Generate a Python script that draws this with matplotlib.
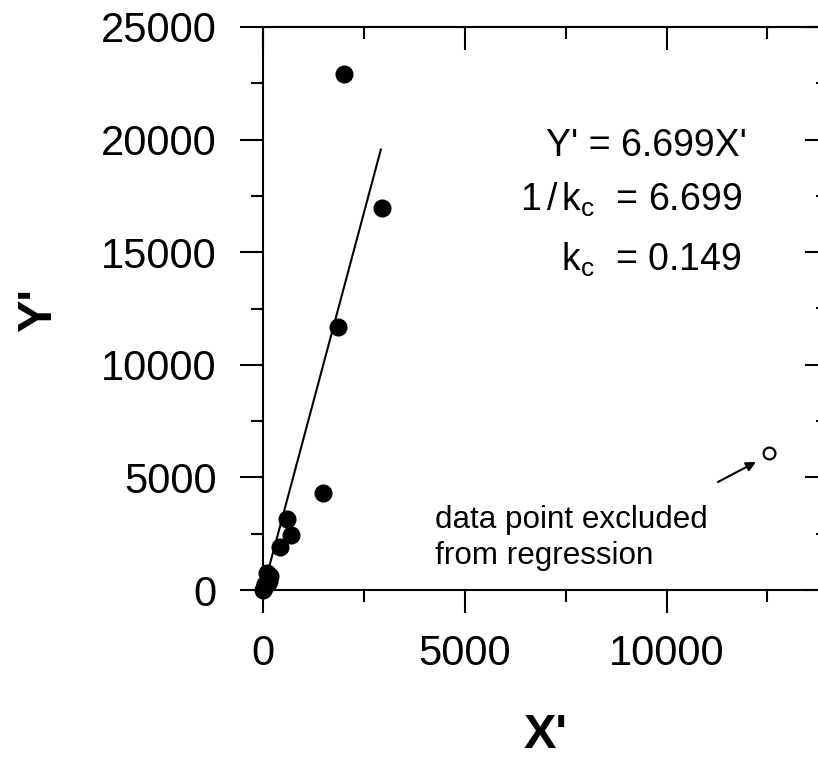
import matplotlib
matplotlib.use('Agg')
import matplotlib.pyplot as plt
from matplotlib.ticker import MultipleLocator

plt.rcParams['font.family'] = ['Liberation Sans', 'DejaVu Sans']
plt.rcParams['mathtext.fontset'] = 'custom'
plt.rcParams['mathtext.rm'] = 'Liberation Sans'
plt.rcParams['mathtext.it'] = 'Liberation Sans'

# ---- data ----
x_points = [0, 30, 60, 120, 150, 180, 100, 420, 600, 700, 1480, 1860, 2000, 2950]
y_points = [0, 100, 250, 300, 400, 600, 750, 1900, 3150, 2450, 4300, 11700, 22900, 16950]
x_excluded = [12530]
y_excluded = [6080]
fit_x = [0, 2920]
fit_y = [0, 19560]
arrow_tail = (11273, 4796)
arrow_tip = (12215, 5684)
xticks = [0, 5000, 10000]
yticks = [0, 5000, 10000, 15000, 20000, 25000]
eq_lines = ["Y' = 6.699X'",
            r"1$\,$/$\,$k$_\mathregular{c}$  = 6.699",
            r"k$_\mathregular{c}$  = 0.149"]
note_text = "data point excluded\nfrom regression"

W, H = 818, 759
fig = plt.figure(figsize=(W / 100, H / 100), dpi=100)
ax = fig.add_axes([263 / W, (H - 590) / H, 565 / W, 563 / H])

ax.plot(fit_x, fit_y, color='black', lw=1.5, zorder=2)
ax.plot(x_points, y_points, 'o', color='black', ms=12, clip_on=False, zorder=3)
ax.plot(x_excluded, y_excluded, 'o', mfc='white', mec='black', ms=8.5, mew=1.6,
        clip_on=False, zorder=3)

ax.set_xlim(0, 14000)
ax.set_ylim(0, 25000)
ax.set_xticks(xticks)
ax.set_yticks(yticks)
ax.xaxis.set_minor_locator(MultipleLocator(2500))
ax.yaxis.set_minor_locator(MultipleLocator(2500))
ax.tick_params(which='major', direction='out', length=16.5, width=1.5, labelsize=30, pad=17)
ax.tick_params(axis='x', which='major', pad=15)
ax.tick_params(which='minor', direction='out', length=8.5, width=1.5)
for s in ax.spines.values():
    s.set_linewidth(1.5)

# inward ticks on top and right
top = ax.secondary_xaxis('top')
top.set_xticks([0, 5000, 10000])
top.xaxis.set_minor_locator(MultipleLocator(2500))
top.tick_params(which='major', direction='in', length=16.5, width=1.5, labeltop=False)
top.tick_params(which='minor', direction='in', length=8.5, width=1.5)
top.spines['top'].set_linewidth(1.5)
right = ax.secondary_yaxis('right')
right.set_yticks(yticks)
right.yaxis.set_minor_locator(MultipleLocator(2500))
right.tick_params(which='major', direction='in', length=16.5, width=1.5, labelright=False)
right.tick_params(which='minor', direction='in', length=8.5, width=1.5)
right.spines['right'].set_linewidth(1.5)

ax.set_xlabel("X'", fontsize=35, fontweight='bold')
ax.set_ylabel("Y'", fontsize=35, fontweight='bold')
ax.xaxis.set_label_coords(0.5, (590 - 748) / 563)
ax.xaxis.label.set_va('baseline')
ax.yaxis.set_label_coords((39 - 263) / 565, (590 - 310) / 563)
ax.yaxis.label.set_va('center')

ax.text(11980, 19250, eq_lines[0], fontsize=27, ha='right', va='baseline')
ax.text(11860, 16850, eq_lines[1], fontsize=27, ha='right', va='baseline')
ax.text(11860, 14190, eq_lines[2], fontsize=27, ha='right', va='baseline')

ax.text(4257, 2309, note_text, fontsize=22.6, ha='left', va='center', linespacing=1.3)
ax.annotate('', xy=arrow_tip, xytext=arrow_tail,
            arrowprops=dict(arrowstyle='-|>', color='black', lw=1.5,
                            mutation_scale=14, shrinkA=0, shrinkB=0))

fig.savefig('out.png', dpi=100)
